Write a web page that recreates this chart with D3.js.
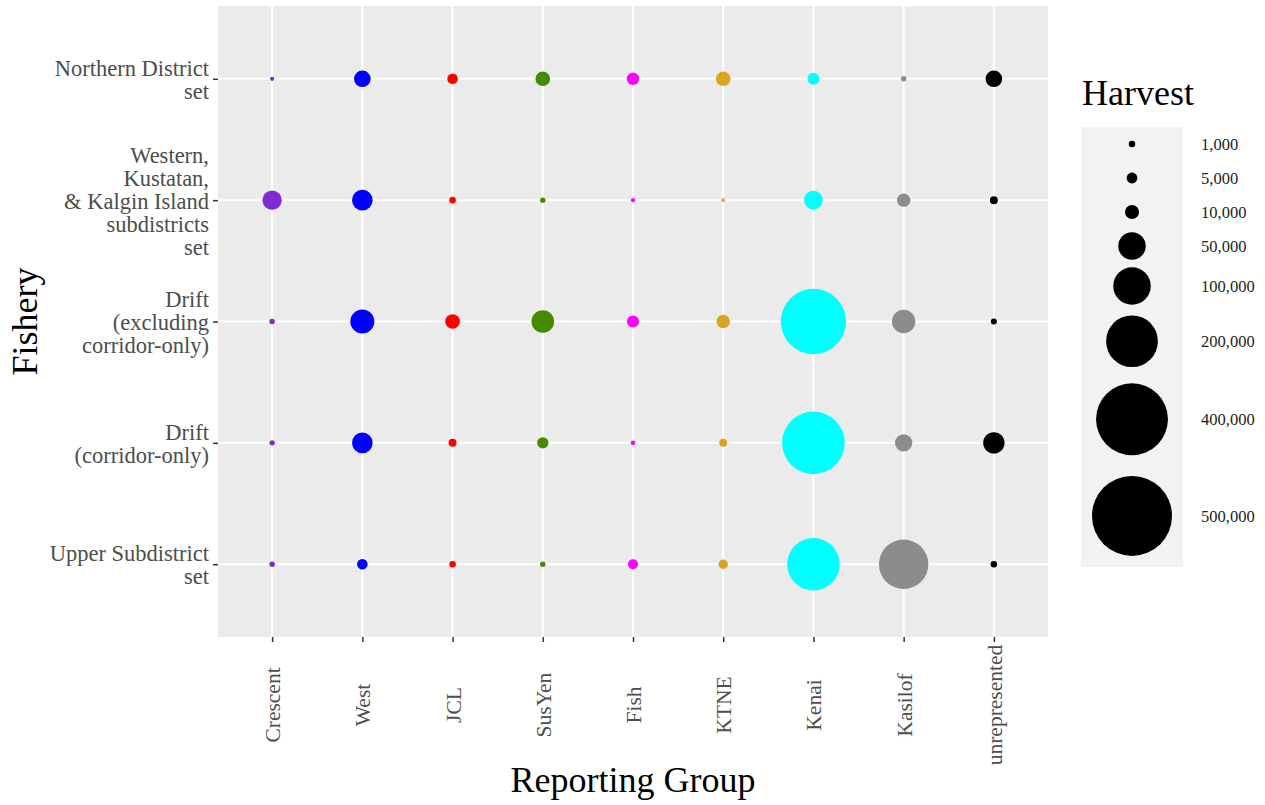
<!DOCTYPE html>
<html>
<head>
<meta charset="utf-8">
<script src="https://cdn.jsdelivr.net/npm/d3@7"></script>
<style>
  body { margin: 0; background: #fff; }
  text { font-family: "Liberation Serif", "Times New Roman", serif; }
</style>
</head>
<body>
<div id="chart"></div>
<script>
// Reporting groups (x axis) and their colours
const groups = ["Crescent", "West", "JCL", "SusYen", "Fish", "KTNE", "Kenai", "Kasilof", "unrepresented"];
const groupColors = ["#7f2bd3", "#0000ff", "#ff0000", "#458b00", "#ff00ff", "#daa520", "#00ffff", "#8c8c8c", "#000000"];

// Fisheries (y axis, top to bottom), labels split on lines
const fisheries = ["Northern", "Western", "DriftExcl", "DriftCorr", "Upper"];
const fisheryLabels = [
  ["Northern District", "set"],
  ["Western,", "Kustatan,", "& Kalgin Island", "subdistricts", "set"],
  ["Drift", "(excluding", "corridor-only)"],
  ["Drift", "(corridor-only)"],
  ["Upper Subdistrict", "set"]
];

// Estimated harvest, one array per fishery, in the order of groups
const harvestNorthern  = [100, 15400, 4700, 11200, 7300, 11200, 6700, 440, 15400];
const harvestWestern   = [22300, 25900, 1000, 440, 100, 20, 20300, 8900, 2000];
const harvestDriftExcl = [440, 36800, 11200, 32000, 6700, 8900, 327000, 34600, 700];
const harvestDriftCorr = [440, 25900, 2000, 5700, 200, 2000, 299000, 17100, 28200];
const harvestUpper     = [440, 4700, 1000, 440, 4000, 3300, 207000, 181000, 1000];

// Legend breaks
const legendBreaks = [1000, 5000, 10000, 50000, 100000, 200000, 400000, 500000];

const harvestRows = [harvestNorthern, harvestWestern, harvestDriftExcl, harvestDriftCorr, harvestUpper];
const data = [];
fisheries.forEach((f, i) => {
  groups.forEach((g, j) => {
    data.push({ fishery: f, group: g, harvest: harvestRows[i][j], color: groupColors[j] });
  });
});

const W = 1265, H = 805;
const margin = { top: 6, right: 217, bottom: 168, left: 218 };
const width = W - margin.left - margin.right,
      height = H - margin.top - margin.bottom;

const svg = d3.select("#chart").append("svg")
  .attr("width", W)
  .attr("height", H);

const g = svg.append("g")
  .attr("transform", `translate(${margin.left},${margin.top})`);

// Scales
const x = d3.scalePoint().domain(groups).range([0, width]).padding(0.6);
const y = d3.scalePoint().domain(fisheries).range([0, height]).padding(0.6);
const size = d3.scaleSqrt().domain([0, 500000]).range([1.56, 40]);

// Panel
g.append("rect")
  .attr("width", width)
  .attr("height", height)
  .attr("fill", "#ebebeb");

// Grid lines
g.selectAll(".vgrid")
  .data(groups)
  .enter()
  .append("line")
  .attr("x1", d => x(d)).attr("x2", d => x(d))
  .attr("y1", 0).attr("y2", height)
  .attr("stroke", "#fff")
  .attr("stroke-width", 2);

g.selectAll(".hgrid")
  .data(fisheries)
  .enter()
  .append("line")
  .attr("x1", 0).attr("x2", width)
  .attr("y1", d => y(d)).attr("y2", d => y(d))
  .attr("stroke", "#fff")
  .attr("stroke-width", 2);

// Axes
const xAxis = g.append("g")
  .attr("transform", `translate(0,${height})`)
  .call(d3.axisBottom(x).tickSize(5).tickPadding(0).tickFormat(""));
const yAxis = g.append("g")
  .call(d3.axisLeft(y).tickSize(5).tickFormat(""));

[xAxis, yAxis].forEach(a => {
  a.select(".domain").remove();
  a.selectAll(".tick line").attr("stroke", "#333").attr("stroke-width", 1.5);
});

// x tick labels, rotated
xAxis.selectAll(".tick")
  .append("text")
  .attr("transform", "translate(0,68) rotate(-90)")
  .attr("dy", "0.35em")
  .attr("text-anchor", "middle")
  .attr("fill", "#4d4d4d")
  .style("font-size", "21.5px")
  .text(d => d);

// y tick labels, multi-line
const lineGap = 23;
yAxis.selectAll(".tick")
  .append("text")
  .attr("x", -9)
  .attr("text-anchor", "end")
  .attr("fill", "#4d4d4d")
  .style("font-size", "22.5px")
  .each(function(d) {
    const lines = fisheryLabels[fisheries.indexOf(d)];
    const t = d3.select(this);
    const y0 = -(lines.length - 1) / 2 * lineGap;
    lines.forEach((l, i) => {
      t.append("tspan")
        .attr("x", -9)
        .attr("y", y0 + i * lineGap)
        .attr("dy", "0.35em")
        .text(l);
    });
  });

// Bubbles
g.selectAll(".dot")
  .data(data)
  .enter()
  .append("circle")
  .attr("class", "dot")
  .attr("cx", d => x(d.group))
  .attr("cy", d => y(d.fishery))
  .attr("r", d => size(d.harvest))
  .attr("fill", d => d.color);

// Axis titles
svg.append("text")
  .attr("x", margin.left + width / 2)
  .attr("y", 792)
  .attr("text-anchor", "middle")
  .style("font-size", "36px")
  .text("Reporting Group");

svg.append("text")
  .attr("transform", `translate(37,${margin.top + height / 2}) rotate(-90)`)
  .attr("text-anchor", "middle")
  .style("font-size", "36px")
  .text("Fishery");

// Legend
const legend = svg.append("g").attr("transform", "translate(1081,127)");
legend.append("text")
  .attr("x", 1)
  .attr("y", -22)
  .style("font-size", "36px")
  .text("Harvest");

const keyH = legendBreaks.map(b => Math.max(34, 2.64 * size(b) - 3.6));
const keyTop = [];
keyH.reduce((acc, h, i) => { keyTop[i] = acc; return acc + h; }, 0);
const totalH = d3.sum(keyH);

legend.append("rect")
  .attr("width", 102)
  .attr("height", totalH)
  .attr("fill", "#f2f2f2");

legend.selectAll(".key")
  .data(legendBreaks)
  .enter()
  .append("circle")
  .attr("cx", 51)
  .attr("cy", (d, i) => keyTop[i] + keyH[i] / 2)
  .attr("r", d => size(d))
  .attr("fill", "#000");

legend.selectAll(".keylab")
  .data(legendBreaks)
  .enter()
  .append("text")
  .attr("x", 120)
  .attr("y", (d, i) => keyTop[i] + keyH[i] / 2)
  .attr("dy", "0.35em")
  .attr("fill", "#222")
  .style("font-size", "16.5px")
  .text(d => d3.format(",")(d));
</script>
</body>
</html>
